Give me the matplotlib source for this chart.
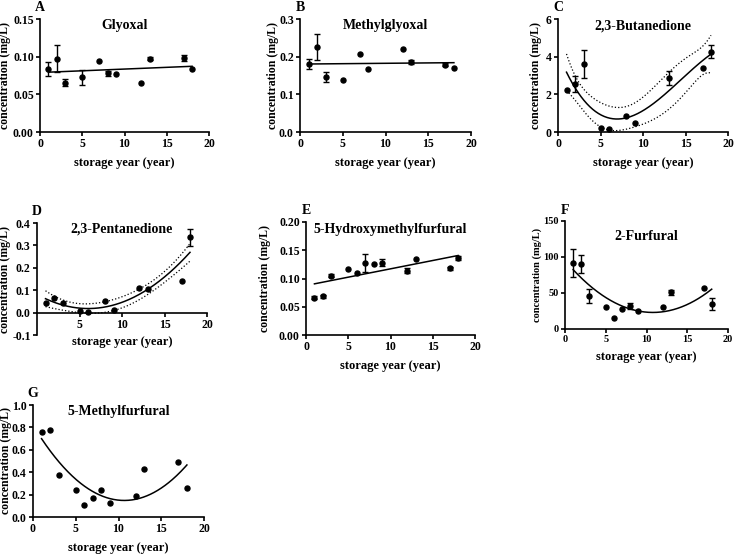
import numpy as np
import matplotlib
matplotlib.use('Agg')
import matplotlib.pyplot as plt

plt.rcParams['font.family'] = ['Liberation Serif', 'DejaVu Serif']
plt.rcParams['font.weight'] = 'bold'
plt.rcParams['axes.labelweight'] = 'bold'

# ---- data (mean, error) ----
xA = [1, 2, 3, 5, 7, 8, 9, 12, 13, 17, 18]
yA = [0.084, 0.097, 0.0655, 0.0726, 0.094, 0.078, 0.0765, 0.0655, 0.097, 0.098, 0.084]
eA = [0.009, 0.018, 0.005, 0.010, 0, 0.003, 0, 0, 0.002, 0.004, 0]

xB = [1, 2, 3, 5, 7, 8, 12, 13, 17, 18]
yB = [0.1805, 0.2265, 0.146, 0.138, 0.206, 0.167, 0.221, 0.186, 0.179, 0.171]
eB = [0.014, 0.035, 0.012, 0, 0, 0, 0, 0.005, 0.005, 0]

xC = [1, 2, 3, 5, 6, 8, 9, 13, 17, 18]
yC = [2.25, 2.55, 3.61, 0.23, 0.14, 0.85, 0.46, 2.88, 3.40, 4.27]
eC = [0, 0.44, 0.75, 0, 0, 0, 0, 0.38, 0, 0.34]

xD = [1, 2, 3, 5, 6, 8, 9, 12, 13, 17, 18]
yD = [0.044, 0.067, 0.044, 0.009, 0.003, 0.050, 0.010, 0.111, 0.107, 0.140, 0.336]
eD = [0, 0, 0, 0, 0, 0, 0, 0, 0, 0, 0.037]

xE = [1, 2, 3, 5, 6, 7, 8, 9, 12, 13, 17, 18]
yE = [0.066, 0.0685, 0.105, 0.117, 0.110, 0.127, 0.1257, 0.128, 0.114, 0.134, 0.118, 0.136]
eE = [0.003, 0.003, 0.003, 0, 0, 0.016, 0, 0.006, 0.005, 0, 0.003, 0.004]

xF = [1, 2, 3, 5, 6, 7, 8, 9, 12, 13, 17, 18]
yF = [91.8, 90.4, 46.0, 31.0, 15.7, 28.0, 32.0, 25.0, 30.0, 50.8, 56.3, 34.6]
eF = [19.4, 12.5, 10.0, 0, 0, 0, 4.0, 0, 0, 3.0, 0, 8.0]

xG = [1, 2, 3, 5, 6, 7, 8, 9, 12, 13, 17, 18]
yG = [0.758, 0.779, 0.379, 0.239, 0.104, 0.167, 0.242, 0.128, 0.188, 0.433, 0.490, 0.26]
eG = [0] * 12

titles = ['Glyoxal', 'Methylglyoxal', '2,3-Butanedione', '2,3-Pentanedione',
          '5-Hydroxymethylfurfural', '2-Furfural', '5-Methylfurfural']
letters = ['A', 'B', 'C', 'D', 'E', 'F', 'G']
n_rep = 3  # triplicate measurements behind each mean

W, H = 735, 554
fig = plt.figure(figsize=(W / 100, H / 100), dpi=100)


def box(l, r, t, b):
    return [l / W, 1 - b / H, (r - l) / W, (b - t) / H]


# (data, fit degree, conf band, box px, yticks, yfmt, title y frac, tick fs, ylabel fs, ylabel right edge px)
panels = [
    (xA, yA, eA, 1, False, (40, 209, 19, 132), np.arange(0, 0.151, 0.05), '%.2f', 0.94, 8.5, 8.5, 11),
    (xB, yB, eB, 1, False, (300, 471, 19, 132), np.arange(0, 0.31, 0.1), '%.1f', 0.94, 8.5, 8.5, 279),
    (xC, yC, eC, 3, True, (558, 728, 19, 132), [0, 2, 4, 6], '%d', 0.94, 8.5, 8.5, 542),
    (xD, yD, eD, 2, True, (37, 207, 223, 335), np.arange(-0.1, 0.41, 0.1), '%.1f', 0.95, 8.5, 8.5, 11),
    (xE, yE, eE, 1, False, (306, 475, 222, 335), np.arange(0, 0.201, 0.05), '%.2f', 0.93, 8.5, 8.5, 271),
    (xF, yF, eF, 2, False, (565, 728, 221, 329), [0, 50, 100, 150], '%d', 0.86, 7.5, 7.5, 542),
    (xG, yG, eG, 2, False, (33, 204, 405, 517), np.arange(0, 1.01, 0.2), '%.1f', 0.94, 8.5, 8.5, 12),
]

for i, (xs, ys, es, deg, band, bx, yt, yfmt, ty, tfs, lfs, ylx) in enumerate(panels):
    ax = fig.add_axes(box(*bx))
    wpx = bx[1] - bx[0]
    xs = np.array(xs, float)
    ys = np.array(ys, float)
    es = np.array(es, float)
    ax.plot(xs, ys, 'o', color='black', markersize=3.6, zorder=3)
    m = es > 0
    ax.errorbar(xs[m], ys[m], yerr=es[m], fmt='none', ecolor='black',
                elinewidth=1.0, capsize=2, capthick=1.0, zorder=3)
    coef = np.polyfit(xs, ys, deg)
    xf = np.linspace(1, 18, 200)
    yfit = np.polyval(coef, xf)
    ax.plot(xf, yfit, color='black', linewidth=1.1)
    if band:
        # 95% confidence band of the fit, replicates counted
        X = np.vander(np.repeat(xs, n_rep), deg + 1)
        res = ys - np.polyval(coef, xs)
        s2 = np.sum(res ** 2) / (len(xs) - deg - 1)
        cov = np.linalg.inv(X.T @ X)
        Xf = np.vander(xf, deg + 1)
        se = np.sqrt(s2 * np.einsum('ij,jk,ik->i', Xf, cov, Xf))
        t = 2.05
        ax.plot(xf, yfit + t * se, ':', color='black', linewidth=0.9)
        ax.plot(xf, yfit - t * se, ':', color='black', linewidth=0.9)

    ax.set_xlim(0, 20)
    ax.set_ylim(yt[0], yt[-1])
    if letters[i] == 'D':
        ax.set_xticks([5, 10, 15, 20])
    else:
        ax.set_xticks([0, 5, 10, 15, 20])
    ax.set_yticks(yt)
    ax.set_yticklabels([yfmt % v for v in yt])
    for s in ['top', 'right']:
        ax.spines[s].set_visible(False)
    for s in ['left', 'bottom']:
        ax.spines[s].set_linewidth(1.2)
    ax.tick_params(direction='out', length=3, width=1.2, labelsize=tfs, pad=1.5)
    for lab in ax.get_xticklabels() + ax.get_yticklabels():
        lab.set_fontweight('bold')
    ax.set_xlabel('storage year (year)', fontsize=9, fontweight='bold', labelpad=5)
    ax.set_ylabel('concentration (mg/L)', fontsize=lfs, fontweight='bold')
    ax.yaxis.set_label_coords((ylx - bx[0]) / wpx, 0.5)
    if letters[i] == 'D':
        ax.spines['bottom'].set_position(('data', 0))
        ax.xaxis.set_label_coords(0.5, -0.01)
        ax.xaxis.label.set_va('top')
    ax.text(0.5, ty, titles[i], transform=ax.transAxes, ha='center', va='center',
            fontsize=10, fontweight='bold')
    ax.text(0, 1.1, letters[i], transform=ax.transAxes, ha='center', va='center',
            fontsize=10, fontweight='bold')

fig.savefig('out.png', dpi=100)
